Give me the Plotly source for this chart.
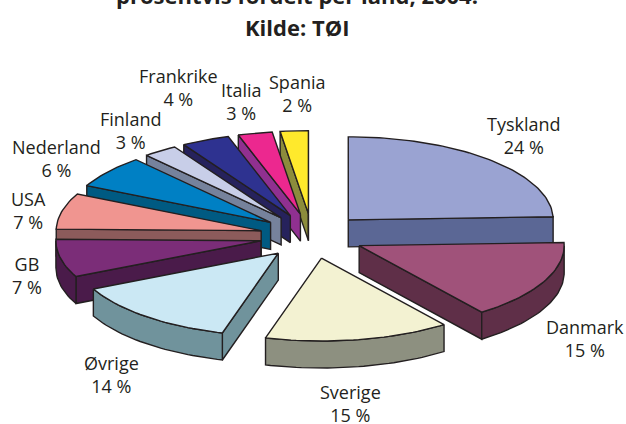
import math
import plotly.graph_objects as go

names = ["Tyskland", "Danmark", "Sverige", "Øvrige", "GB", "USA", "Nederland", "Finland", "Frankrike", "Italia", "Spania"]
values = [24.4, 15.4, 14.6, 13.5, 7.4, 7.0, 6.3, 2.7, 3.8, 2.7, 2.2]
top_colors = ["#9AA3D2", "#A0527A", "#F3F2D2", "#CBE8F4", "#7B2D78", "#F09590", "#0080C4", "#C8CEE8", "#2E3290", "#EC288F", "#FFE92C"]
wall_colors = ["#5B6795", "#5F2F48", "#8D9080", "#70939C", "#4A1B4A", "#8C5B5B", "#005A82", "#76829C", "#26225C", "#903090", "#8C8C3C"]
title_lines = ["prosentvis fordelt per land, 2004.", "Kilde: TØI"]
label_pos = [(524, 135), (585, 338), (350, 403), (111, 374), (27, 275), (28, 210), (56, 158), (130, 130), (178, 87), (241, 101), (297, 93)]

W, H = 626, 424
CX, CY, RX, RY, DEPTH = 312, 236, 205, 83, 27
EXPLODE_X, EXPLODE_Y = 0.255, 0.27
INK = "#231F20"
FONT = "Open Sans"

total = sum(values)
fig = go.Figure()


def pt(a, ox, oy):
    return ox + RX * math.sin(a), oy - RY * math.cos(a)


def poly(points, color):
    xs = [p[0] for p in points] + [points[0][0]]
    ys = [p[1] for p in points] + [points[0][1]]
    fig.add_trace(go.Scatter(x=xs, y=ys, mode="lines", fill="toself", fillcolor=color,
                             line=dict(color=INK, width=1.4), hoverinfo="skip", showlegend=False))


slices = []
cum = 0.0
for i, v in enumerate(values):
    a0 = cum / total * 2 * math.pi
    cum += v
    a1 = cum / total * 2 * math.pi
    mid = (a0 + a1) / 2
    ox = CX + EXPLODE_X * RX * math.sin(mid)
    oy = CY - EXPLODE_Y * RY * math.cos(mid)
    slices.append((oy, i, a0, a1, ox))


def drop(p):
    return (p[0], p[1] + DEPTH)


for oy, i, a0, a1, ox in sorted(slices):
    n = max(3, int((a1 - a0) * 40))
    rim = [pt(a0 + (a1 - a0) * k / n, ox, oy) for k in range(n + 1)]
    apex = (ox, oy)
    # radial walls only where they face the viewer
    if math.sin(a0) < 0:
        poly([apex, rim[0], drop(rim[0]), drop(apex)], wall_colors[i])
    if math.sin(a1) > 0:
        poly([apex, rim[-1], drop(rim[-1]), drop(apex)], wall_colors[i])
    # outer wall only where the rim faces the viewer
    f0, f1 = max(a0, math.pi / 2), min(a1, 3 * math.pi / 2)
    if f1 > f0:
        front = [pt(f0 + (f1 - f0) * k / n, ox, oy) for k in range(n + 1)]
        poly(front + [drop(p) for p in reversed(front)], wall_colors[i])
    poly([apex] + rim, top_colors[i])

annotations = []
for name, v, (lx, ly) in zip(names, values, label_pos):
    annotations.append(dict(x=lx, y=ly, xref="x", yref="y", showarrow=False, align="center",
                            xanchor="center", yanchor="middle",
                            text=f"{name}<br>{round(v)} %",
                            font=dict(family=FONT, size=18, color=INK)))
for line, py in zip(title_lines, (-5, 27)):
    annotations.append(dict(x=297 / W, y=1 - py / H, xref="paper", yref="paper", showarrow=False,
                            xanchor="center", yanchor="middle",
                            text=f"<b>{line}</b>", font=dict(family=FONT, size=22, color=INK)))

fig.update_layout(
    width=W, height=H, margin=dict(l=0, r=0, t=0, b=0),
    paper_bgcolor="white", plot_bgcolor="white", showlegend=False,
    xaxis=dict(range=[0, W], visible=False, fixedrange=True),
    yaxis=dict(range=[H, 0], visible=False, fixedrange=True),
    annotations=annotations,
)
fig.write_html("out.html", config=dict(displayModeBar=False),
               post_script="document.body.style.margin='0';document.body.style.overflow='hidden';")
